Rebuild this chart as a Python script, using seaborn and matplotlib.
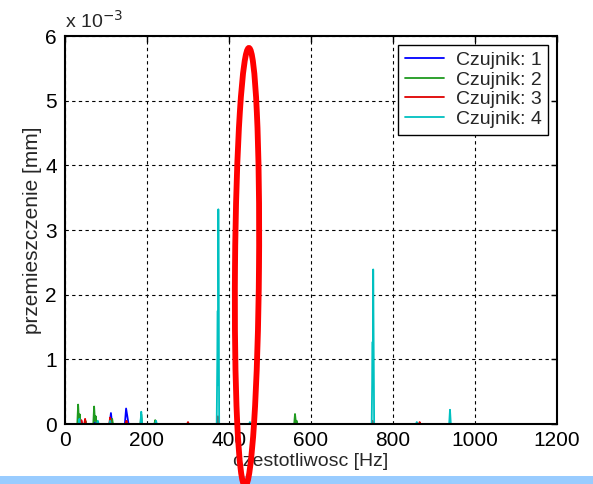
import matplotlib
matplotlib.use('Agg')
import matplotlib.pyplot as plt
import matplotlib.patches as mpatches
import matplotlib.transforms as mtransforms
import seaborn as sns
import pandas as pd

# widmo przemieszczen, amplitudy w 1e-3 mm
freq_1 = [0, 38, 40, 42, 70, 72, 74, 109, 112, 115, 146, 149, 152, 155, 370, 373, 376, 1200]
amp_1 = [0, 0, 0.04, 0, 0, 0.03, 0, 0, 0.17, 0, 0, 0.24, 0.12, 0, 0, 0.07, 0, 0]

freq_2 = [0, 30, 32, 34, 36, 38, 48, 50, 52, 69, 71, 73, 75, 77, 113, 115, 117, 184, 186, 188,
          218, 220, 222, 371, 373, 375, 559, 561, 563, 565, 567, 1200]
amp_2 = [0, 0, 0.30, 0.05, 0.15, 0, 0, 0.05, 0, 0, 0.27, 0.05, 0.12, 0, 0, 0.08, 0, 0, 0.15, 0,
         0, 0.06, 0, 0, 0.08, 0, 0, 0.155, 0.03, 0.05, 0, 0]

freq_3 = [0, 38, 40, 42, 47, 49, 51, 108, 110, 112, 148, 150, 152, 298, 300, 302,
          370, 373, 376, 748, 750, 752, 863, 865, 867, 1200]
amp_3 = [0, 0, 0.06, 0, 0, 0.08, 0, 0, 0.10, 0, 0, 0.05, 0, 0, 0.03, 0,
         0, 0.12, 0, 0, 0.05, 0, 0, 0.03, 0, 0]

freq_4 = [0, 33, 35, 37, 78, 80, 82, 108, 110, 112, 184, 186, 188, 220, 222, 224,
          370, 372.5, 373.3, 374, 376, 449, 451, 453, 748, 750.3, 751, 751.7, 754,
          856, 858, 860, 937, 939, 941, 1200]
amp_4 = [0, 0, 0.08, 0, 0, 0.05, 0, 0, 0.05, 0, 0, 0.19, 0, 0, 0.05, 0,
         0, 1.75, 0.6, 3.32, 0, 0, 0.03, 0, 0, 1.27, 0.6, 2.39, 0,
         0, 0.03, 0, 0, 0.22, 0, 0]

czujniki = ['Czujnik: 1', 'Czujnik: 2', 'Czujnik: 3', 'Czujnik: 4']
kolory = ['#0000ff', '#1f9a1f', '#e00000', '#00c0c0']

frames = []
for nazwa, f, a in zip(czujniki, [freq_1, freq_2, freq_3, freq_4], [amp_1, amp_2, amp_3, amp_4]):
    frames.append(pd.DataFrame({'f': f, 'a': a, 'czujnik': nazwa}))
df = pd.concat(frames, ignore_index=True)

sns.set_style('white')
plt.rcParams['font.family'] = ['Liberation Sans', 'DejaVu Sans']

fig = plt.figure(figsize=(5.93, 4.84), dpi=100)
ax = fig.add_axes([65 / 593, 60 / 484, 492 / 593, 388 / 484])

sns.lineplot(data=df, x='f', y='a', hue='czujnik', palette=kolory, hue_order=czujniki,
             sort=False, estimator=None, linewidth=1.3, ax=ax)

ax.set_xlim(0, 1200)
ax.set_ylim(0, 6)
ax.set_xticks(range(0, 1201, 200))
ax.set_yticks(range(0, 7))
ax.grid(True, color='black', linestyle=(0, (3, 3)), linewidth=0.8)
ax.tick_params(direction='in', top=True, right=True, length=4, width=1,
               labelsize=15, colors='black')
ax.tick_params(axis='y', pad=6)
ax.tick_params(axis='x', pad=5)
for s in ax.spines.values():
    s.set_linewidth(1.5)
    s.set_color('black')

ax.set_xlabel('czestotliwosc [Hz]', fontsize=14, labelpad=2)
ax.set_ylabel('przemieszczenie [mm]', fontsize=15, labelpad=2)
ax.text(0, 1.012, 'x 10$^{-3}$', transform=ax.transAxes, fontsize=14, ha='left', va='bottom')

leg = ax.legend(loc='upper right', fontsize=14, frameon=True, fancybox=False, framealpha=1,
                edgecolor='black', handlelength=2.0, labelspacing=0.1, borderaxespad=0.45,
                borderpad=0.35, handletextpad=0.6)
leg.get_frame().set_linewidth(1.0)
leg.set_title(None)

# pasek u dolu i czerwona elipsa z oryginalu
fig.patches.append(mpatches.Rectangle((0, 0), 1, 8 / 484, transform=fig.transFigure,
                                      facecolor='#99ccff', edgecolor='none', zorder=0))
el = mpatches.Ellipse((247, 484 - 267), 24, 438, angle=-0.5, fill=False, edgecolor='#ff0000',
                      linewidth=4.2, transform=mtransforms.IdentityTransform(), zorder=10)
fig.patches.append(el)

fig.savefig('out.png', dpi=100)
